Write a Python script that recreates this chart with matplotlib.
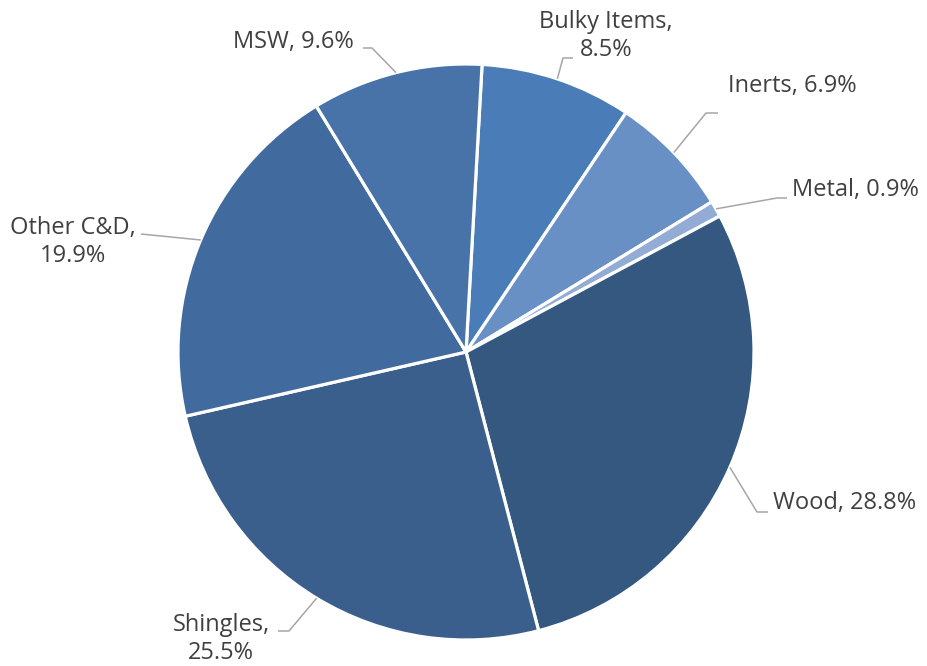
import numpy as np
import matplotlib
matplotlib.use("Agg")
import matplotlib.pyplot as plt

# data, in clockwise order starting just right of 12 o'clock
labels = ["Bulky Items", "Inerts", "Metal", "Wood", "Shingles", "Other C&D", "MSW"]
shares = [8.5, 6.9, 0.9, 28.8, 25.5, 19.9, 9.6]
colors = ["#4A7DB7", "#6890C4", "#93ACD5", "#34587F", "#3B5F8D", "#416B9F", "#4773A9"]

W, H = 928, 666
CX, CY, R = 466, 352, 288  # pie centre / radius in pixels

fig = plt.figure(figsize=(W / 100, H / 100), dpi=100)
ax = fig.add_axes([0, 0, 1, 1])


def px(x, y):
    # pixel coords (top-left origin) -> data coords
    return (x - CX) / R, (CY - y) / R


start = 86.8
wedges, _ = ax.pie(shares, colors=colors, startangle=start, counterclock=False,
                   radius=1, center=(0, 0), frame=True,
                   wedgeprops=dict(edgecolor="white", linewidth=2.3))
ax.set_xlim(-CX / R, (W - CX) / R)
ax.set_ylim(-(H - CY) / R, CY / R)
ax.set_aspect("auto")
ax.axis("off")

# label layout: text position (px), alignment, leader elbow + end (px)
layout = {
    "Bulky Items": dict(txt=(606, 36), ha="center", pts=[(563, 58), (573, 58)], nl=True),
    "Inerts": dict(txt=(728, 86), ha="left", pts=[(706, 113), (718, 113)], nl=False),
    "Metal": dict(txt=(792, 190), ha="left", pts=[(777, 198), (787, 198)], nl=False),
    "Wood": dict(txt=(773, 503), ha="left", pts=[(757, 512), (768, 512)], nl=False),
    "Shingles": dict(txt=(221, 639), ha="center", pts=[(289, 631), (278, 631)], nl=True),
    "Other C&D": dict(txt=(73, 242), ha="center", pts=[(141, 234)], nl=True),
    "MSW": dict(txt=(293, 42), ha="center", pts=[(372, 48), (363, 48)], nl=False),
}

cum = 0.0
total = sum(shares)
for lab, val in zip(labels, shares):
    mid = start - 360 * (cum + val / 2) / total
    cum += val
    ax_, ay_ = np.cos(np.radians(mid)), np.sin(np.radians(mid))
    L = layout[lab]
    pts = [(ax_, ay_)] + [px(*p) for p in L["pts"]]
    ax.plot([p[0] for p in pts], [p[1] for p in pts], color="#A6A6A6", lw=1.1,
            solid_capstyle="butt", zorder=3)
    sep = ",\n" if L["nl"] else ", "
    tx, ty = px(*L["txt"])
    ax.text(tx, ty, f"{lab}{sep}{val}%", ha=L["ha"], va="center",
            fontsize=17, color="#404040", family="Open Sans", linespacing=1.2)

fig.savefig("out.png", dpi=100)
